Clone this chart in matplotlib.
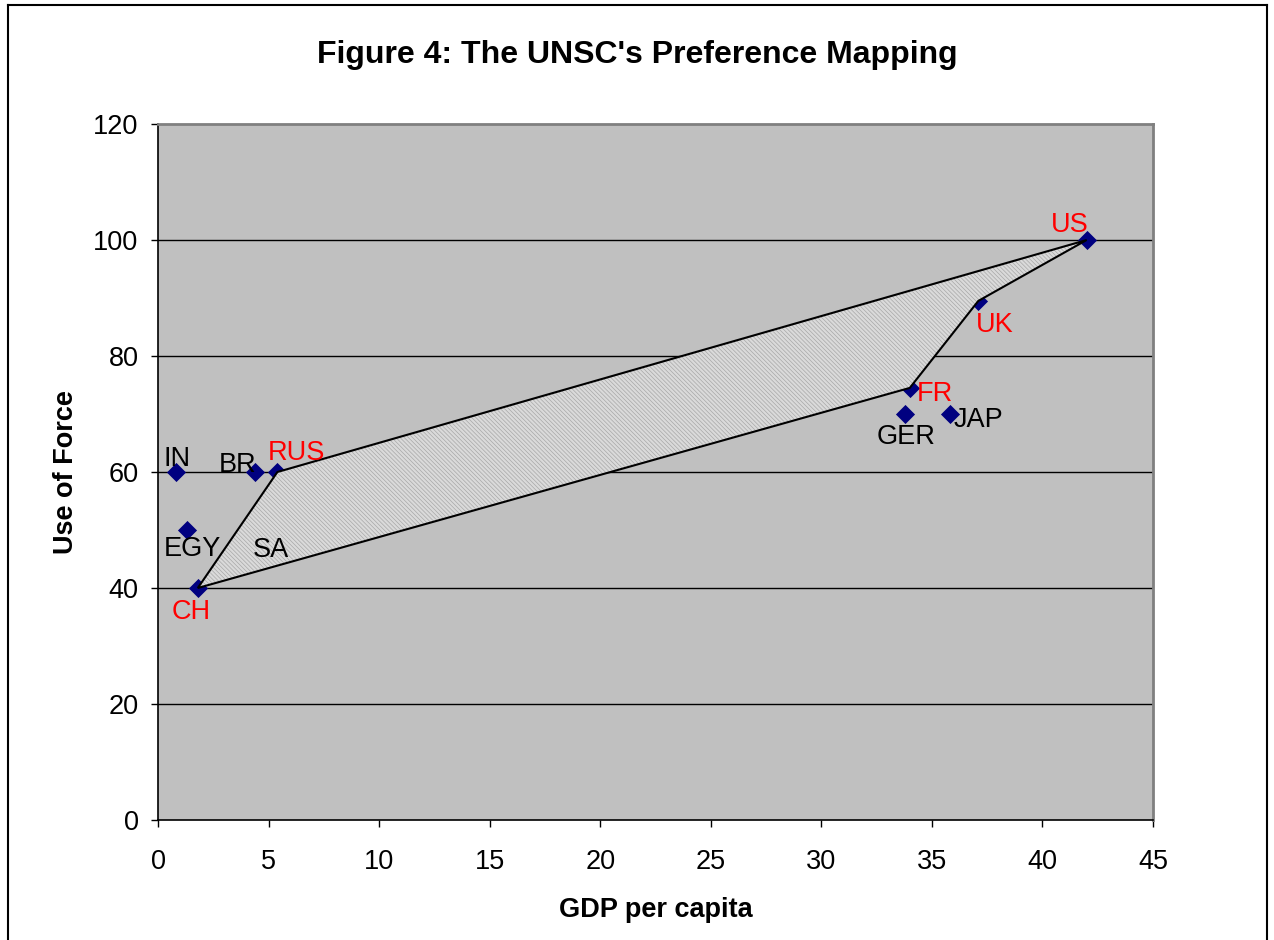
import matplotlib
matplotlib.use("Agg")
import matplotlib.pyplot as plt
from matplotlib.patches import Polygon
from matplotlib.lines import Line2D

plt.rcParams['font.family'] = ['Liberation Sans', 'DejaVu Sans']
plt.rcParams['hatch.linewidth'] = 0.5

# Data
countries = ["IN", "BR", "RUS", "EGY", "CH", "GER", "JAP", "FR", "UK", "US"]
gdp = [0.8, 4.4, 5.4, 1.3, 1.8, 33.8, 35.8, 34.0, 37.1, 42.0]
force = [60, 60, 60, 50, 40, 70, 70, 74.5, 89.5, 100]
label_colors = ["black", "black", "red", "black", "red", "black", "black", "red", "red", "red"]
# label offsets (pixels) relative to point
label_offsets = [(1, 13), (-18, 7), (19, 19), (6, -19), (-7, -24), (1, -23), (29, -6), (25, -6), (16, -24), (-17, 15)]

# Extra label without a visible marker
sa_label = "SA"
sa_pos = (5.1, 46.5)

# Preference polygon (UNSC permanent members)
hull_order = ["CH", "RUS", "US", "UK", "FR"]

xticks = [0, 5, 10, 15, 20, 25, 30, 35, 40, 45]
yticks = [0, 20, 40, 60, 80, 100, 120]

FS = 19.5

fig = plt.figure(figsize=(12.74, 9.40), dpi=100)
ax = fig.add_axes([158/1274, 1 - 820/940, (1153-158)/1274, (820-124)/940])
ax.set_facecolor('#C0C0C0')
ax.set_xlim(0, 45)
ax.set_ylim(0, 120)
ax.set_xticks(xticks)
ax.set_yticks(yticks)
ax.tick_params(axis='both', direction='out', length=5, width=1, color='black',
               labelsize=FS)
ax.tick_params(axis='x', pad=16)
ax.tick_params(axis='y', pad=9)

for side in ['top', 'right']:
    ax.spines[side].set_color('#808080')
    ax.spines[side].set_linewidth(2)
for side in ['left', 'bottom']:
    ax.spines[side].set_color('black')
    ax.spines[side].set_linewidth(1.2)

for yv in yticks[1:-1]:
    ax.axhline(yv, color='black', linewidth=1, zorder=1)

ax.scatter(gdp, force, marker='D', s=95, color='#000080', zorder=3, linewidths=0)

idx = {c: i for i, c in enumerate(countries)}
poly_pts = [(gdp[idx[c]], force[idx[c]]) for c in hull_order]
fill = Polygon(poly_pts, closed=True, facecolor='#dadada', edgecolor='#a8a8a8',
               hatch='\\\\\\\\\\\\\\\\', linewidth=0, zorder=4)
ax.add_patch(fill)
outline = Polygon(poly_pts, closed=True, facecolor='none', edgecolor='black',
                  linewidth=1.5, zorder=5)
ax.add_patch(outline)

for c, x, y, col, off in zip(countries, gdp, force, label_colors, label_offsets):
    ax.annotate(c, (x, y), xytext=off, textcoords='offset pixels',
                ha='center', va='center', fontsize=FS, color=col, zorder=6)
ax.text(sa_pos[0], sa_pos[1], sa_label, ha='center', va='center', fontsize=FS,
        color='black', zorder=6)

ax.set_xlabel('GDP per capita', fontsize=FS, fontweight='bold', labelpad=16)
ax.set_ylabel('Use of Force', fontsize=FS, fontweight='bold', labelpad=10)

fig.text(0.5, 1 - 55/940, "Figure 4: The UNSC's Preference Mapping",
         ha='center', va='center', fontsize=23, fontweight='bold')

# Figure border
for xs, ys in [((7.5/1274, 7.5/1274), (0, 1 - 5/940)),
               ((7.5/1274, 1267/1274), (1 - 5/940, 1 - 5/940)),
               ((1267/1274, 1267/1274), (1 - 5/940, 0))]:
    fig.add_artist(Line2D(xs, ys, color='black', linewidth=1.5))

fig.savefig('out.png', dpi=100)
